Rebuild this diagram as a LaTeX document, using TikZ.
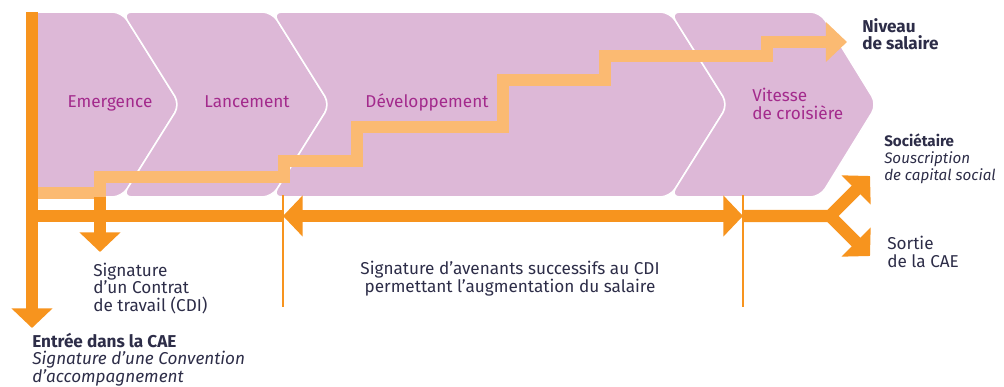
\documentclass[tikz,border=0pt]{standalone}
\usepackage{fontspec}
\setmainfont{Fira Sans}
\usetikzlibrary{arrows.meta}
\definecolor{chev}{RGB}{221,184,215}
\definecolor{plum}{RGB}{163,42,140}
\definecolor{dorange}{RGB}{247,148,30}
\definecolor{lorange}{RGB}{251,186,114}
\definecolor{ink}{RGB}{45,45,72}
\newcommand\labelsize{\fontsize{12.2}{12.2}\selectfont}

\begin{document}
\begin{tikzpicture}[
    x=0.025cm, y=-0.025cm,
    every node/.append style = {font=\labelsize, text=ink, inner sep=0pt},
    phase/.style = {fill=chev, draw=white, line width=1.1pt, rounded corners=7pt},
    phasename/.style = {text=plum, anchor=base},
    note/.style = {align=left, anchor=base west},
    bar/.style = {draw=dorange, line width=8.6pt},
    head/.style = {-{Triangle[width=28.5pt,length=14pt]}},
    stair/.style = {draw=lorange, line width=8.9pt},
    guide/.style = {draw=dorange, line width=1pt}
  ]
  \useasboundingbox (0,0) rectangle (1004,387);
  \begin{scope}
    \path[phase] (26,12) -- (122,12) -- (180,104.5) -- (122,197) -- (26,197) -- cycle;
    \path[phase] (122,12) -- (272,12) -- (330,104.5) -- (272,197) -- (122,197)
      -- (180,104.5) -- cycle;
    \path[phase] (272,12) -- (670,12) -- (728,104.5) -- (670,197) -- (272,197)
      -- (330,104.5) -- cycle;
    \path[phase] (670,12) -- (820,12) -- (877,104.5) -- (820,197) -- (670,197)
      -- (728,104.5) -- cycle;
    \node[phasename] (emergence) at (110,107) {Emergence};
    \node[phasename] (lancement) at (247,107) {Lancement};
    \node[phasename] (developpement) at (427,107) {Développement};
    \node[phasename, note] (vitesse) at (752,119) {Vitesse\\de croisière};
  \end{scope}
  \coordinate (start) at (32,193);
  \coordinate (salaire) at (847,42);
  \draw[stair, -{Triangle[width=27.5pt,length=15pt]}] (start) -| (100,177)
    -| (284,161) -| (357,127) -| (503,80) -| (605,56) -| (767,42) -- (salaire);
  \coordinate (cae) at (32,12);
  \coordinate (entree) at (32,328);
  \coordinate (cross) at (32,216);
  \coordinate (cdiend) at (100,197);
  \coordinate (cdi) at (100,252);
  \coordinate (avleft) at (283,216);
  \coordinate (avright) at (743,216);
  \coordinate (fork) at (830,216);
  \coordinate (up) at (870,176);
  \coordinate (down) at (870,256);
  \draw[bar, head] (cae) -- (entree);
  \draw[bar] (cross) -- (avleft);
  \draw[bar, head] (cdiend) -- (cdi);
  \draw[bar, {Triangle[width=28.5pt,length=14pt]}-{Triangle[width=28.5pt,length=14pt]}]
    (avleft) -- (avright);
  \draw[bar, head] (avright) -- (fork) -- (up);
  \draw[bar, head] (fork) -- (down);
  \draw[guide] (283,195) -- (283,307);
  \draw[guide] (743,195) -- (743,307);
  \node[note, font=\labelsize\bfseries] (niveau) at (862,50) {Niveau\\de salaire};
  \node[note, font=\fontsize{10.8}{12}\selectfont] (societaire) at (884,180)
    {\textbf{Sociétaire}\\\textit{Souscription}\\\textit{de capital social}};
  \node[note] (sortie) at (887,267) {Sortie\\de la CAE};
  \node[note] (contrat) at (93,311) {Signature\\d'un Contrat\\de travail (CDI)};
  \node[anchor=base, align=center] (avenants) at (510,292)
    {Signature d'avenants successifs au CDI\\permettant l'augmentation du salaire};
  \node[note] (entreecae) at (32,382)
    {\textbf{Entrée dans la CAE}\\\textit{Signature d'une Convention}\\\textit{d'accompagnement}};
\end{tikzpicture}
\end{document}
